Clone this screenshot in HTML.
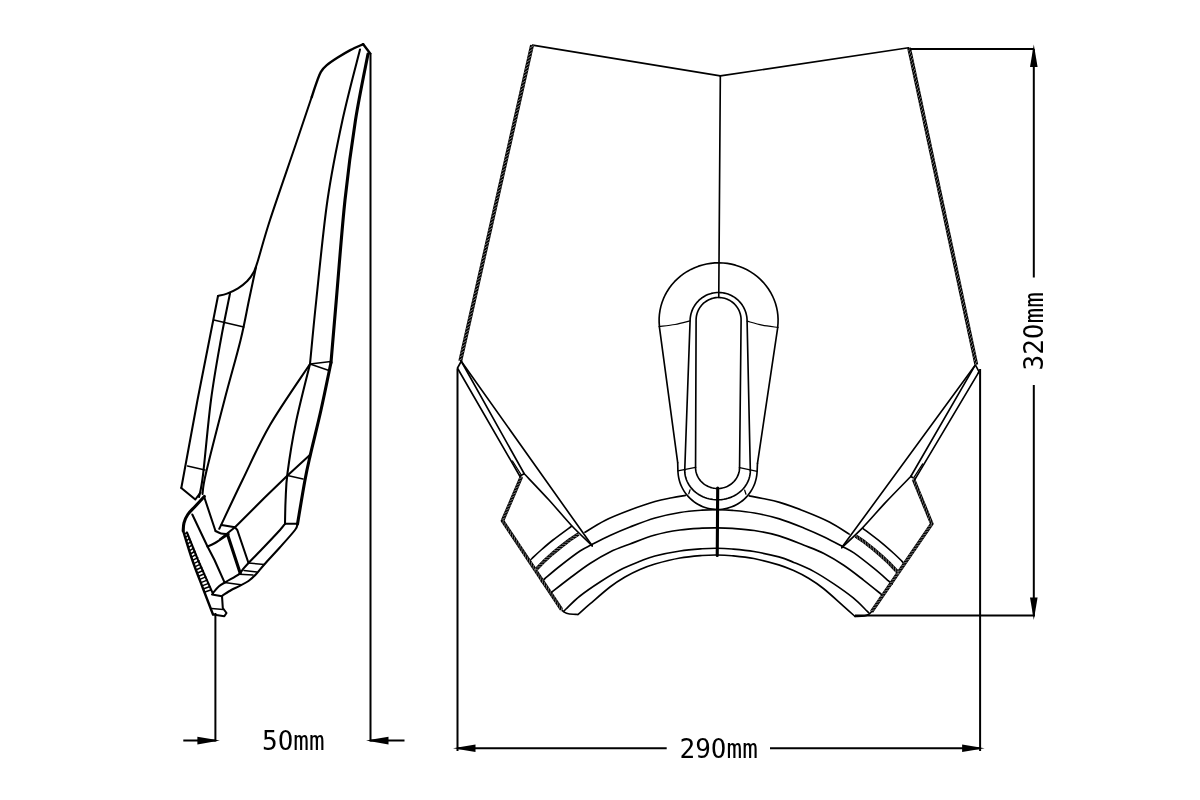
<!DOCTYPE html>
<html lang="en"><head><meta charset="utf-8"><title>Windscreen dimensions</title>
<style>
html,body{margin:0;padding:0;background:#fff;}
body{width:1200px;height:800px;overflow:hidden;}
svg{display:block;filter:grayscale(1) blur(0.3px);}
text{font-family:"DejaVu Sans Mono","Liberation Mono",monospace;fill:#000;}
</style></head><body>
<svg width="1200" height="800" viewBox="0 0 1200 800">
<rect width="1200" height="800" fill="#fff"/>
<g fill="none" stroke="#000" stroke-width="1.5" stroke-linecap="round" stroke-linejoin="round">
<path d="M310.00,364.00 L331.00,361.50"/>
<path d="M310.00,364.00 L329.00,370.50"/>
<path d="M213.80,320.00 L243.80,327.00"/>
<path d="M187.50,466.00 L205.00,470.00"/>
<path d="M287.50,475.40 L303.00,479.00"/>
<path d="M248.50,563.00 L264.30,564.50"/>
<path d="M184.35,534.21 L187.00,532.50"/>
<path d="M185.49,537.42 L188.16,535.23"/>
<path d="M186.64,540.63 L189.52,538.44"/>
<path d="M187.78,543.85 L190.88,541.65"/>
<path d="M188.93,547.06 L192.24,544.85"/>
<path d="M190.08,550.27 L193.60,548.06"/>
<path d="M191.22,553.48 L194.96,551.27"/>
<path d="M192.37,556.69 L196.32,554.47"/>
<path d="M193.52,559.90 L197.68,557.68"/>
<path d="M194.66,563.12 L199.04,560.89"/>
<path d="M195.81,566.33 L200.40,564.09"/>
<path d="M196.95,569.54 L201.76,567.30"/>
<path d="M198.10,572.75 L203.12,570.51"/>
<path d="M199.25,575.96 L204.48,573.71"/>
<path d="M200.39,579.17 L205.84,576.92"/>
<path d="M201.54,582.38 L207.20,580.13"/>
<path d="M202.68,585.60 L208.56,583.33"/>
<path d="M203.83,588.81 L209.92,586.54"/>
<path d="M204.98,592.02 L211.28,589.74"/>
<path d="M244.00,570.50 L256.80,572.00"/>
<path d="M239.50,574.30 L253.00,575.00"/>
<path d="M224.50,582.50 L241.00,584.80"/>
<path d="M211.50,608.60 L223.30,609.50"/>
</g>
<g fill="none" stroke="#000" stroke-width="2.05" stroke-linecap="round" stroke-linejoin="round">
<path d="M311.70,97.00 C308.95,105.17 302.15,125.50 295.20,146.00 C288.25,166.50 276.28,200.67 270.00,220.00 C263.72,239.33 260.25,253.25 257.50,262.00 C254.75,270.75 255.20,269.33 253.50,272.50 C251.80,275.67 249.88,278.37 247.30,281.00 C244.72,283.63 241.38,286.20 238.00,288.30 C234.62,290.40 230.33,292.32 227.00,293.60 C223.67,294.88 219.50,295.60 218.00,296.00"/>
<path d="M360.00,49.50 C357.08,61.25 347.92,94.92 342.50,120.00 C337.08,145.08 331.87,170.00 327.50,200.00 C323.13,230.00 319.22,272.67 316.30,300.00 C313.38,327.33 311.05,353.33 310.00,364.00"/>
<path d="M218.00,296.00 L197.50,400.00 L181.30,488.00"/>
<path d="M230.00,293.50 C228.47,301.25 223.97,322.25 220.80,340.00 C217.63,357.75 213.97,377.50 211.00,400.00 C208.03,422.50 205.00,458.83 203.00,475.00 C201.00,491.17 199.67,493.33 199.00,497.00"/>
<path d="M256.00,267.00 C254.83,272.50 251.57,287.83 249.00,300.00 C246.43,312.17 244.68,323.33 240.60,340.00 C236.52,356.67 230.27,377.83 224.50,400.00 C218.73,422.17 209.67,457.33 206.00,473.00 C202.33,488.67 203.08,490.50 202.50,494.00"/>
<path d="M181.30,488.00 L195.30,499.50 L200.50,492.50"/>
<path d="M310.00,364.00 C303.33,374.17 281.25,405.67 270.00,425.00 C258.75,444.33 250.95,462.70 242.50,480.00 C234.05,497.30 223.17,520.67 219.30,528.80"/>
<path d="M310.00,364.00 C307.63,373.83 299.55,404.83 295.80,423.00 C292.05,441.17 289.20,460.17 287.50,473.00 C285.80,485.83 286.02,491.53 285.60,500.00 C285.18,508.47 285.10,519.83 285.00,523.80"/>
<path d="M310.40,454.60 L287.50,475.40 L265.00,497.30 L235.00,527.30 L220.00,539.30"/>
<path d="M285.00,523.80 L297.50,523.80"/>
<path d="M297.50,524.00 C297.08,525.00 297.92,526.12 295.00,530.00 C292.08,533.88 285.12,541.55 280.00,547.30 C274.88,553.05 268.30,560.00 264.30,564.50 C260.30,569.00 258.63,571.55 256.00,574.30 C253.37,577.05 251.37,579.00 248.50,581.00 C245.63,583.00 241.67,584.80 238.80,586.30 C235.93,587.80 233.97,588.50 231.30,590.00 C228.63,591.50 224.22,594.42 222.80,595.30"/>
<path d="M285.00,523.80 C284.17,524.83 283.50,526.13 280.00,530.00 C276.50,533.87 269.25,541.50 264.00,547.00 C258.75,552.50 252.08,559.20 248.50,563.00 C244.92,566.80 244.12,567.92 242.50,569.80 C240.88,571.68 241.55,572.30 238.80,574.30 C236.05,576.30 229.30,579.80 226.00,581.80 C222.70,583.80 221.17,584.43 219.00,586.30 C216.83,588.17 214.00,591.88 213.00,593.00"/>
<path d="M221.50,525.00 L235.00,527.30"/>
<path d="M235.00,527.30 L237.30,530.00 L248.50,563.00"/>
<path d="M187.00,532.50 L198.00,560.00 L213.00,593.80"/>
<path d="M204.30,497.30 L215.50,531.00"/>
<path d="M215.50,531.00 C216.42,531.42 219.00,533.00 221.00,533.50 C223.00,534.00 226.42,533.92 227.50,534.00"/>
<path d="M192.30,514.50 L207.50,546.50 L214.50,560.00 L224.30,581.80"/>
<path d="M207.50,546.50 C208.75,545.92 211.45,545.08 215.00,543.00 C218.55,540.92 226.50,535.50 228.80,534.00"/>
<path d="M213.00,614.50 L224.30,616.30 L226.50,613.00 L222.80,608.00 L222.00,596.00"/>
<path d="M212.00,594.50 L222.00,596.30"/>
</g>
<g fill="none" stroke="#000" stroke-width="3.1" stroke-linecap="round" stroke-linejoin="round">
<path d="M368.00,54.00 C365.92,65.00 359.33,95.67 355.50,120.00 C351.67,144.33 348.20,170.00 345.00,200.00 C341.80,230.00 338.63,272.92 336.30,300.00 C333.97,327.08 331.88,352.08 331.00,362.50"/>
<path d="M331.00,362.50 C329.33,370.42 324.43,394.65 321.00,410.00 C317.57,425.35 313.07,442.93 310.40,454.60 C307.73,466.27 307.15,468.43 305.00,480.00 C302.85,491.57 298.75,516.67 297.50,524.00"/>
<path d="M227.50,534.50 L240.30,573.50"/>
<path d="M204.30,496.50 C202.80,498.13 198.05,503.30 195.30,506.30 C192.55,509.30 189.68,511.75 187.80,514.50 C185.92,517.25 184.77,520.05 184.00,522.80 C183.23,525.55 183.33,529.63 183.20,531.00"/>
</g>
<g fill="none" stroke="#000" stroke-width="2.4" stroke-linecap="round" stroke-linejoin="round">
<path d="M363.20,44.20 C361.05,45.18 354.55,47.87 350.30,50.10 C346.05,52.33 341.62,55.08 337.70,57.60 C333.78,60.12 329.60,62.82 326.80,65.20 C324.00,67.58 322.57,69.12 320.90,71.90 C319.23,74.68 318.33,77.72 316.80,81.90 C315.27,86.08 312.55,94.48 311.70,97.00"/>
<path d="M363.20,44.20 L370.20,53.50"/>
<path d="M183.20,531.00 C184.72,535.83 189.00,550.42 192.30,560.00 C195.60,569.58 199.55,579.42 203.00,588.50 C206.45,597.58 211.33,610.17 213.00,614.50"/>
</g>
<g transform="rotate(0.406 718.6 320.0)">
<g fill="none" stroke="#000" stroke-width="1.25" stroke-linecap="round" stroke-linejoin="round">
<path d="M513.50,462.46 L522.10,475.90"/>
<path d="M923.70,462.46 L915.10,475.90"/>
<path d="M659.40,327.00 C662.02,326.63 669.98,325.80 675.10,324.80 C680.22,323.80 687.60,321.63 690.10,321.00"/>
<path d="M678.90,471.20 L696.60,467.50"/>
<path d="M691.30,490.00 L690.00,494.00"/>
<path d="M777.80,327.00 C775.18,326.63 767.22,325.80 762.10,324.80 C756.98,323.80 749.60,321.63 747.10,321.00"/>
<path d="M758.30,471.20 L740.60,467.50"/>
<path d="M745.90,490.00 L747.20,494.00"/>
</g>
<g fill="none" stroke="#000" stroke-width="1.65" stroke-linecap="round" stroke-linejoin="round">
<path d="M530.56,46.43 L718.57,75.89"/>
<path d="M906.64,46.43 L718.63,75.89"/>
<path d="M718.60,75.89 L718.60,297.50"/>
<path d="M461.55,363.07 L457.85,369.85 L458.61,371.34"/>
<path d="M975.65,363.07 L979.35,369.85 L978.59,371.34"/>
<path d="M461.55,363.07 L593.80,546.69"/>
<path d="M975.65,363.07 L843.40,546.69"/>
<path d="M461.55,363.07 L525.34,475.12"/>
<path d="M975.65,363.07 L911.86,475.12"/>
<path d="M525.34,475.12 C529.50,479.47 542.34,492.63 550.28,501.20 C558.22,509.77 565.71,518.96 572.96,526.54 C580.21,534.12 590.33,543.33 593.80,546.69"/>
<path d="M911.86,475.12 C907.70,479.47 894.86,492.63 886.92,501.20 C878.98,509.77 871.49,518.96 864.24,526.54 C856.99,534.12 846.87,543.33 843.40,546.69"/>
<path d="M458.61,371.34 L520.86,477.41"/>
<path d="M978.59,371.34 L916.34,477.41"/>
<path d="M520.86,477.41 L525.34,475.12"/>
<path d="M916.34,477.41 L911.86,475.12"/>
<path d="M563.56,610.61 C564.06,611.07 565.40,612.68 566.58,613.38 C567.75,614.09 568.33,614.51 570.59,614.86 C572.84,615.21 578.51,615.38 580.09,615.49"/>
<path d="M873.64,610.61 C873.14,611.07 871.80,612.68 870.62,613.38 C869.45,614.09 868.87,614.51 866.61,614.86 C864.36,615.21 858.69,615.38 857.11,615.49"/>
<path d="M531.21,562.33 C531.63,561.91 531.96,561.50 533.69,559.82 C535.43,558.14 538.16,555.37 541.64,552.26 C545.12,549.15 549.34,545.33 554.56,541.17 C559.78,537.01 569.90,529.60 572.97,527.29"/>
<path d="M905.99,562.33 C905.57,561.91 905.24,561.50 903.51,559.82 C901.77,558.14 899.04,555.37 895.56,552.26 C892.08,549.15 887.86,545.33 882.64,541.17 C877.42,537.01 867.30,529.60 864.23,527.29"/>
<path d="M586.51,533.19 C589.83,531.19 598.95,524.96 606.42,521.20 C613.90,517.44 623.04,513.83 631.35,510.62 C639.66,507.41 649.30,504.03 656.29,501.95 C663.27,499.86 668.19,499.18 673.26,498.13 C678.34,497.07 684.50,496.05 686.74,495.63"/>
<path d="M850.69,533.19 C847.37,531.19 838.25,524.96 830.78,521.20 C823.30,517.44 814.16,513.83 805.85,510.62 C797.54,507.41 787.90,504.03 780.91,501.95 C773.93,499.86 769.01,499.18 763.94,498.13 C758.86,497.07 752.70,496.05 750.46,495.63"/>
<path d="M543.36,582.95 C543.94,582.41 543.77,582.36 546.84,579.72 C549.90,577.09 555.95,571.74 561.75,567.12 C567.55,562.49 576.33,555.60 581.64,551.98 C586.95,548.36 588.61,548.01 593.59,545.39 C598.58,542.77 605.22,539.23 611.53,536.26 C617.84,533.30 623.99,530.59 631.47,527.62 C638.95,524.65 648.09,520.92 656.40,518.45 C664.72,515.97 673.54,514.12 681.37,512.77 C689.19,511.41 697.14,510.81 703.35,510.31 C709.55,509.82 713.52,509.80 718.60,509.80 C723.68,509.80 727.65,509.82 733.85,510.31 C740.06,510.81 748.01,511.41 755.83,512.77 C763.66,514.12 772.48,515.97 780.80,518.45 C789.11,520.92 798.25,524.65 805.73,527.62 C813.21,530.59 819.36,533.30 825.67,536.26 C831.98,539.23 838.62,542.77 843.61,545.39 C848.59,548.01 850.25,548.36 855.56,551.98 C860.87,555.60 869.65,562.49 875.45,567.12 C881.25,571.74 887.30,577.09 890.36,579.72 C893.43,582.36 893.26,582.41 893.84,582.95"/>
<path d="M552.24,594.69 C552.52,594.43 550.67,595.78 553.93,593.17 C557.20,590.57 565.53,583.84 571.83,579.05 C578.13,574.25 585.09,568.79 591.73,564.41 C598.36,560.02 605.00,556.06 611.65,552.76 C618.29,549.47 624.11,547.51 631.59,544.62 C639.07,541.74 648.21,537.84 656.53,535.45 C664.84,533.05 673.66,531.46 681.49,530.27 C689.31,529.08 697.29,528.71 703.48,528.31 C709.66,527.92 713.56,527.90 718.60,527.90 C723.64,527.90 727.54,527.92 733.72,528.31 C739.91,528.71 747.89,529.08 755.71,530.27 C763.54,531.46 772.36,533.05 780.67,535.45 C788.99,537.84 798.13,541.74 805.61,544.62 C813.09,547.51 818.91,549.47 825.55,552.76 C832.20,556.06 838.84,560.02 845.47,564.41 C852.11,568.79 859.07,574.25 865.37,579.05 C871.67,583.84 880.00,590.57 883.27,593.17 C886.53,595.78 884.68,594.43 884.96,594.69"/>
<path d="M566.56,611.58 C566.81,611.33 565.49,612.51 568.05,610.07 C570.62,607.64 576.32,601.52 581.96,596.98 C587.59,592.44 595.22,587.21 601.86,582.83 C608.50,578.45 615.13,574.19 621.77,570.69 C628.42,567.20 635.90,564.23 641.71,561.85 C647.53,559.48 650.02,558.21 656.67,556.44 C663.33,554.68 673.81,552.52 681.64,551.27 C689.46,550.01 697.46,549.41 703.62,548.91 C709.78,548.42 713.61,548.30 718.60,548.30 C723.59,548.30 727.42,548.42 733.58,548.91 C739.74,549.41 747.74,550.01 755.56,551.27 C763.39,552.52 773.87,554.68 780.53,556.44 C787.18,558.21 789.67,559.48 795.49,561.85 C801.30,564.23 808.78,567.20 815.43,570.69 C822.07,574.19 828.70,578.45 835.34,582.83 C841.98,587.21 849.61,592.44 855.24,596.98 C860.88,601.52 866.58,607.64 869.15,610.07 C871.71,612.51 870.39,611.33 870.64,611.58"/>
<path d="M580.09,615.49 C582.08,613.72 586.71,609.53 592.02,604.90 C597.32,600.28 606.09,592.30 611.89,587.76 C617.70,583.22 621.84,580.61 626.82,577.66 C631.80,574.70 636.79,572.25 641.77,570.05 C646.75,567.85 650.08,566.41 656.73,564.44 C663.38,562.48 673.86,559.74 681.69,558.27 C689.51,556.80 697.52,556.16 703.67,555.61 C709.82,555.07 713.62,555.00 718.60,555.00 C723.58,555.00 727.38,555.07 733.53,555.61 C739.68,556.16 747.69,556.80 755.51,558.27 C763.34,559.74 773.82,562.48 780.47,564.44 C787.12,566.41 790.45,567.85 795.43,570.05 C800.41,572.25 805.40,574.70 810.38,577.66 C815.36,580.61 819.50,583.22 825.31,587.76 C831.11,592.30 839.88,600.28 845.18,604.90 C850.49,609.53 855.12,613.72 857.11,615.49"/>
<path d="M777.72,326.81 L778.04,322.79 L778.08,318.75 L777.82,314.73 L777.27,310.73 L776.43,306.78 L775.31,302.89 L773.90,299.09 L772.23,295.39 L770.29,291.82 L768.10,288.39 L765.66,285.11 L762.99,282.01 L760.10,279.10 L757.01,276.39 L753.73,273.89 L750.28,271.63 L746.67,269.60 L742.92,267.82 L739.05,266.30 L735.08,265.05 L731.03,264.07 L726.92,263.37 L722.77,262.94 L718.60,262.80 L714.43,262.94 L710.28,263.37 L706.17,264.07 L702.12,265.05 L698.15,266.30 L694.28,267.82 L690.53,269.60 L686.92,271.63 L683.47,273.89 L680.19,276.39 L677.10,279.10 L674.21,282.01 L671.54,285.11 L669.10,288.39 L666.91,291.82 L664.97,295.39 L663.30,299.09 L661.89,302.89 L660.77,306.78 L659.93,310.73 L659.38,314.73 L659.12,318.75 L659.16,322.79 L659.48,326.81"/>
<path d="M659.40,327.00 L678.70,463.00"/>
<path d="M777.80,327.00 L758.50,463.00"/>
<path d="M678.70,463.00 C678.77,464.63 678.92,470.31 679.10,472.76 C679.27,475.20 679.43,476.04 679.75,477.65 C680.07,479.26 680.49,480.87 681.01,482.42 C681.53,483.98 682.15,485.52 682.86,487.01 C683.57,488.49 684.37,489.94 685.26,491.32 C686.15,492.70 687.14,494.04 688.19,495.30 C689.25,496.56 690.39,497.77 691.59,498.89 C692.80,500.01 694.08,501.06 695.42,502.02 C696.75,502.99 698.16,503.87 699.60,504.66 C701.05,505.45 702.55,506.15 704.09,506.75 C705.62,507.35 707.20,507.86 708.80,508.27 C710.39,508.68 712.03,508.99 713.66,509.19 C715.29,509.40 716.95,509.50 718.60,509.50 C720.25,509.50 721.91,509.40 723.54,509.19 C725.17,508.99 726.81,508.68 728.40,508.27 C730.00,507.86 731.58,507.35 733.11,506.75 C734.65,506.15 736.15,505.45 737.60,504.66 C739.04,503.87 740.45,502.99 741.78,502.02 C743.12,501.06 744.40,500.01 745.61,498.89 C746.81,497.77 747.95,496.56 749.01,495.30 C750.06,494.04 751.05,492.70 751.94,491.32 C752.83,489.94 753.63,488.49 754.34,487.01 C755.05,485.52 755.67,483.98 756.19,482.42 C756.71,480.87 757.13,479.26 757.45,477.65 C757.77,476.04 757.93,475.20 758.10,472.76 C758.28,470.31 758.43,464.63 758.50,463.00"/>
<path d="M685.80,470.50 L690.10,321.00 L690.10,321.00 L690.16,319.14 L690.34,317.28 L690.65,315.44 L691.07,313.62 L691.61,311.84 L692.27,310.09 L693.04,308.39 L693.92,306.75 L694.90,305.17 L695.99,303.65 L697.17,302.21 L698.45,300.85 L699.81,299.57 L701.25,298.39 L702.77,297.30 L704.35,296.32 L705.99,295.44 L707.69,294.67 L709.44,294.01 L711.22,293.47 L713.04,293.05 L714.88,292.74 L716.74,292.56 L718.60,292.50 L720.46,292.56 L722.32,292.74 L724.16,293.05 L725.98,293.47 L727.76,294.01 L729.51,294.67 L731.21,295.44 L732.85,296.32 L734.43,297.30 L735.95,298.39 L737.39,299.57 L738.75,300.85 L740.03,302.21 L741.21,303.65 L742.30,305.17 L743.28,306.75 L744.16,308.39 L744.93,310.09 L745.59,311.84 L746.13,313.62 L746.55,315.44 L746.86,317.28 L747.04,319.14 L747.10,321.00 L747.10,321.00 L751.40,470.50"/>
<path d="M685.80,470.50 L685.87,472.42 L686.08,474.32 L686.43,476.22 L686.92,478.08 L687.54,479.92 L688.30,481.71 L689.18,483.46 L690.19,485.15 L691.33,486.78 L692.58,488.34 L693.94,489.82 L695.41,491.22 L696.97,492.53 L698.63,493.75 L700.38,494.86 L702.20,495.87 L704.09,496.78 L706.05,497.57 L708.06,498.25 L710.11,498.80 L712.20,499.24 L714.32,499.55 L716.45,499.74 L718.60,499.80 L720.75,499.74 L722.88,499.55 L725.00,499.24 L727.09,498.80 L729.14,498.25 L731.15,497.57 L733.11,496.78 L735.00,495.87 L736.82,494.86 L738.57,493.75 L740.23,492.53 L741.79,491.22 L743.26,489.82 L744.62,488.34 L745.87,486.78 L747.01,485.15 L748.02,483.46 L748.90,481.71 L749.66,479.92 L750.28,478.08 L750.77,476.22 L751.12,474.32 L751.33,472.42 L751.40,470.50"/>
<path d="M696.60,467.50 L696.10,320.00 L696.10,320.00 L696.15,318.53 L696.29,317.06 L696.53,315.61 L696.87,314.18 L697.29,312.77 L697.81,311.39 L698.42,310.05 L699.11,308.75 L699.89,307.50 L700.75,306.30 L701.68,305.16 L702.69,304.09 L703.76,303.08 L704.90,302.15 L706.10,301.29 L707.35,300.51 L708.65,299.82 L709.99,299.21 L711.37,298.69 L712.78,298.27 L714.21,297.93 L715.66,297.69 L717.13,297.55 L718.60,297.50 L720.07,297.55 L721.54,297.69 L722.99,297.93 L724.42,298.27 L725.83,298.69 L727.21,299.21 L728.55,299.82 L729.85,300.51 L731.10,301.29 L732.30,302.15 L733.44,303.08 L734.51,304.09 L735.52,305.16 L736.45,306.30 L737.31,307.50 L738.09,308.75 L738.78,310.05 L739.39,311.39 L739.91,312.77 L740.33,314.18 L740.67,315.61 L740.91,317.06 L741.05,318.53 L741.10,320.00 L741.10,320.00 L740.60,467.50"/>
<path d="M696.60,467.50 L696.65,468.87 L696.79,470.24 L697.02,471.60 L697.35,472.94 L697.77,474.25 L698.27,475.54 L698.87,476.79 L699.55,478.00 L700.31,479.17 L701.15,480.28 L702.06,481.35 L703.04,482.35 L704.09,483.29 L705.21,484.16 L706.38,484.96 L707.60,485.69 L708.87,486.33 L710.18,486.90 L711.53,487.39 L712.91,487.78 L714.31,488.10 L715.73,488.32 L717.16,488.46 L718.60,488.50 L720.04,488.46 L721.47,488.32 L722.89,488.10 L724.29,487.78 L725.67,487.39 L727.02,486.90 L728.33,486.33 L729.60,485.69 L730.82,484.96 L731.99,484.16 L733.11,483.29 L734.16,482.35 L735.14,481.35 L736.05,480.28 L736.89,479.17 L737.65,478.00 L738.33,476.79 L738.93,475.54 L739.43,474.25 L739.85,472.94 L740.18,471.60 L740.41,470.24 L740.55,468.87 L740.60,467.50"/>
</g>
<g fill="none" stroke="#000" stroke-width="3.1" stroke-linecap="round" stroke-linejoin="round">
<path d="M718.90,488.00 L718.90,555.50"/>
</g>
<g fill="none" stroke="#000" stroke-width="3.9" stroke-linecap="butt" stroke-linejoin="round">
<path d="M530.06,46.53 L460.60,362.83"/>
<path d="M976.60,362.83 L907.14,46.53"/>
</g>
<path d="M531.56,46.95L527.78,49.63 M530.79,50.46L527.01,53.14 M530.02,53.98L526.24,56.66 M529.25,57.49L525.46,60.18 M528.47,61.01L524.69,63.69 M527.70,64.53L523.92,67.21 M526.93,68.04L523.15,70.73 M526.16,71.56L522.37,74.24 M525.39,75.08L521.60,77.76 M524.61,78.59L520.83,81.27 M523.84,82.11L520.06,84.79 M523.07,85.62L519.29,88.31 M522.30,89.14L518.51,91.82 M521.52,92.66L517.74,95.34 M520.75,96.17L516.97,98.86 M519.98,99.69L516.20,102.37 M519.21,103.21L515.42,105.89 M518.44,106.72L514.65,109.40 M517.66,110.24L513.88,112.92 M516.89,113.75L513.11,116.44 M516.12,117.27L512.34,119.95 M515.35,120.79L511.56,123.47 M514.58,124.30L510.79,126.99 M513.80,127.82L510.02,130.50 M513.03,131.33L509.25,134.02 M512.26,134.85L508.48,137.53 M511.49,138.37L507.70,141.05 M510.71,141.88L506.93,144.57 M509.94,145.40L506.16,148.08 M509.17,148.92L505.39,151.60 M508.40,152.43L504.61,155.12 M507.63,155.95L503.84,158.63 M506.85,159.46L503.07,162.15 M506.08,162.98L502.30,165.66 M505.31,166.50L501.53,169.18 M504.54,170.01L500.75,172.70 M503.76,173.53L499.98,176.21 M502.99,177.05L499.21,179.73 M502.22,180.56L498.44,183.24 M501.45,184.08L497.66,186.76 M500.68,187.59L496.89,190.28 M499.90,191.11L496.12,193.79 M499.13,194.63L495.35,197.31 M498.36,198.14L494.58,200.83 M497.59,201.66L493.80,204.34 M496.82,205.18L493.03,207.86 M496.04,208.69L492.26,211.37 M495.27,212.21L491.49,214.89 M494.50,215.72L490.72,218.41 M493.73,219.24L489.94,221.92 M492.95,222.76L489.17,225.44 M492.18,226.27L488.40,228.96 M491.41,229.79L487.63,232.47 M490.64,233.31L486.85,235.99 M489.87,236.82L486.08,239.50 M489.09,240.34L485.31,243.02 M488.32,243.85L484.54,246.54 M487.55,247.37L483.77,250.05 M486.78,250.89L482.99,253.57 M486.01,254.40L482.22,257.09 M485.23,257.92L481.45,260.60 M484.46,261.43L480.68,264.12 M483.69,264.95L479.91,267.63 M482.92,268.47L479.13,271.15 M482.14,271.98L478.36,274.67 M481.37,275.50L477.59,278.18 M480.60,279.02L476.82,281.70 M479.83,282.53L476.04,285.21 M479.06,286.05L475.27,288.73 M478.28,289.56L474.50,292.25 M477.51,293.08L473.73,295.76 M476.74,296.60L472.96,299.28 M475.97,300.11L472.18,302.80 M475.19,303.63L471.41,306.31 M474.42,307.15L470.64,309.83 M473.65,310.66L469.87,313.34 M472.88,314.18L469.09,316.86 M472.11,317.69L468.32,320.38 M471.33,321.21L467.55,323.89 M470.56,324.73L466.78,327.41 M469.79,328.24L466.01,330.93 M469.02,331.76L465.23,334.44 M468.25,335.28L464.46,337.96 M467.47,338.79L463.69,341.47 M466.70,342.31L462.92,344.99 M465.93,345.82L462.15,348.51 M465.16,349.34L461.37,352.02 M464.38,352.86L460.60,355.54 M463.61,356.37L459.83,359.06 M462.84,359.89L459.06,362.57 M975.06,363.08L977.37,359.06 M974.29,359.57L976.60,355.54 M973.52,356.05L975.83,352.03 M972.74,352.53L975.06,348.51 M971.97,349.02L974.28,345.00 M971.20,345.50L973.51,341.48 M970.43,341.98L972.74,337.96 M969.66,338.47L971.97,334.45 M968.88,334.95L971.20,330.93 M968.11,331.44L970.42,327.41 M967.34,327.92L969.65,323.90 M966.57,324.40L968.88,320.38 M965.80,320.89L968.11,316.87 M965.02,317.37L967.33,313.35 M964.25,313.85L966.56,309.83 M963.48,310.34L965.79,306.32 M962.71,306.82L965.02,302.80 M961.93,303.31L964.25,299.28 M961.16,299.79L963.47,295.77 M960.39,296.27L962.70,292.25 M959.62,292.76L961.93,288.74 M958.85,289.24L961.16,285.22 M958.07,285.73L960.38,281.70 M957.30,282.21L959.61,278.19 M956.53,278.69L958.84,274.67 M955.76,275.18L958.07,271.16 M954.98,271.66L957.30,267.64 M954.21,268.14L956.52,264.12 M953.44,264.63L955.75,260.61 M952.67,261.11L954.98,257.09 M951.90,257.60L954.21,253.57 M951.12,254.08L953.44,250.06 M950.35,250.56L952.66,246.54 M949.58,247.05L951.89,243.03 M948.81,243.53L951.12,239.51 M948.04,240.01L950.35,235.99 M947.26,236.50L949.57,232.48 M946.49,232.98L948.80,228.96 M945.72,229.47L948.03,225.44 M944.95,225.95L947.26,221.93 M944.17,222.43L946.49,218.41 M943.40,218.92L945.71,214.90 M942.63,215.40L944.94,211.38 M941.86,211.88L944.17,207.86 M941.09,208.37L943.40,204.35 M940.31,204.85L942.62,200.83 M939.54,201.34L941.85,197.31 M938.77,197.82L941.08,193.80 M938.00,194.30L940.31,190.28 M937.22,190.79L939.54,186.77 M936.45,187.27L938.76,183.25 M935.68,183.75L937.99,179.73 M934.91,180.24L937.22,176.22 M934.14,176.72L936.45,172.70 M933.36,173.21L935.68,169.19 M932.59,169.69L934.90,165.67 M931.82,166.17L934.13,162.15 M931.05,162.66L933.36,158.64 M930.28,159.14L932.59,155.12 M929.50,155.63L931.81,151.60 M928.73,152.11L931.04,148.09 M927.96,148.59L930.27,144.57 M927.19,145.08L929.50,141.06 M926.41,141.56L928.73,137.54 M925.64,138.04L927.95,134.02 M924.87,134.53L927.18,130.51 M924.10,131.01L926.41,126.99 M923.33,127.50L925.64,123.47 M922.55,123.98L924.86,119.96 M921.78,120.46L924.09,116.44 M921.01,116.95L923.32,112.93 M920.24,113.43L922.55,109.41 M919.46,109.91L921.78,105.89 M918.69,106.40L921.00,102.38 M917.92,102.88L920.23,98.86 M917.15,99.37L919.46,95.34 M916.38,95.85L918.69,91.83 M915.60,92.33L917.92,88.31 M914.83,88.82L917.14,84.80 M914.06,85.30L916.37,81.28 M913.29,81.78L915.60,77.76 M912.52,78.27L914.83,74.25 M911.74,74.75L914.05,70.73 M910.97,71.24L913.28,67.21 M910.20,67.72L912.51,63.70 M909.43,64.20L911.74,60.18 M908.65,60.69L910.97,56.67 M907.88,57.17L910.19,53.15 M907.11,53.66L909.42,49.63 M906.34,50.14L908.65,46.12" fill="none" stroke="#9a9a9a" stroke-width="0.8" stroke-linecap="butt"/>
<g fill="none" stroke="#000" stroke-width="3.6" stroke-linecap="butt" stroke-linejoin="round">
<path d="M522.61,477.89 L503.93,522.33 L563.56,610.61"/>
<path d="M873.64,610.61 L933.27,522.33 L914.59,477.89"/>
<path d="M536.78,571.79 L539.76,568.77 L546.71,561.52 L553.66,555.17 L562.11,548.11 L571.06,541.05 L580.02,534.99"/>
<path d="M857.18,534.99 L866.14,541.05 L875.09,548.11 L883.54,555.17 L890.49,561.52 L897.44,568.77 L900.42,571.79"/>
</g>
<path d="M523.90,478.56L520.01,480.36 M522.58,481.69L518.70,483.50 M521.26,484.83L517.38,486.63 M519.94,487.96L516.06,489.76 M518.62,491.09L514.74,492.90 M517.31,494.23L513.42,496.03 M515.99,497.36L512.11,499.17 M514.67,500.50L510.79,502.30 M513.35,503.63L509.47,505.43 M512.03,506.77L508.15,508.57 M510.72,509.90L506.83,511.70 M509.40,513.03L505.52,514.84 M508.08,516.17L504.20,517.97 M506.76,519.30L502.88,521.11 M504.85,521.12L504.24,525.35 M506.75,523.93L506.14,528.17 M508.66,526.75L508.04,530.99 M510.56,529.57L509.94,533.81 M512.46,532.39L511.85,536.62 M514.36,535.20L513.75,539.44 M516.27,538.02L515.65,542.26 M518.17,540.84L517.56,545.08 M520.07,543.66L519.46,547.89 M521.98,546.47L521.36,550.71 M523.88,549.29L523.27,553.53 M525.78,552.11L525.17,556.35 M527.69,554.93L527.07,559.16 M529.59,557.74L528.98,561.98 M531.49,560.56L530.88,564.80 M533.39,563.38L532.78,567.62 M535.30,566.20L534.68,570.43 M537.20,569.01L536.59,573.25 M539.10,571.83L538.49,576.07 M541.01,574.65L540.39,578.89 M542.91,577.47L542.30,581.70 M544.81,580.28L544.20,584.52 M546.72,583.10L546.10,587.34 M548.62,585.92L548.01,590.16 M550.52,588.74L549.91,592.97 M552.43,591.55L551.81,595.79 M554.33,594.37L553.72,598.61 M556.23,597.19L555.62,601.43 M558.13,600.01L557.52,604.24 M560.04,602.83L559.42,607.06 M561.94,605.64L561.33,609.88 M563.84,608.46L563.23,612.70 M872.52,609.70L876.68,608.69 M874.42,606.89L878.58,605.87 M876.32,604.07L880.48,603.06 M878.23,601.25L882.39,600.24 M880.13,598.43L884.29,597.42 M882.03,595.62L886.19,594.60 M883.93,592.80L888.09,591.79 M885.84,589.98L890.00,588.97 M887.74,587.16L891.90,586.15 M889.64,584.35L893.80,583.33 M891.55,581.53L895.71,580.52 M893.45,578.71L897.61,577.70 M895.35,575.89L899.51,574.88 M897.26,573.08L901.42,572.06 M899.16,570.26L903.32,569.25 M901.06,567.44L905.22,566.43 M902.97,564.62L907.12,563.61 M904.87,561.81L909.03,560.79 M906.77,558.99L910.93,557.98 M908.67,556.17L912.83,555.16 M910.58,553.35L914.74,552.34 M912.48,550.54L916.64,549.52 M914.38,547.72L918.54,546.71 M916.29,544.90L920.45,543.89 M918.19,542.08L922.35,541.07 M920.09,539.27L924.25,538.25 M922.00,536.45L926.16,535.44 M923.90,533.63L928.06,532.62 M925.80,530.81L929.96,529.80 M927.70,528.00L931.86,526.98 M929.61,525.18L933.77,524.16 M932.34,523.82L933.76,519.78 M931.02,520.69L932.45,516.65 M929.70,517.55L931.13,513.51 M928.38,514.42L929.81,510.38 M927.07,511.28L928.49,507.25 M925.75,508.15L927.17,504.11 M924.43,505.01L925.86,500.98 M923.11,501.88L924.54,497.84 M921.79,498.75L923.22,494.71 M920.48,495.61L921.90,491.58 M919.16,492.48L920.58,488.44 M917.84,489.34L919.27,485.31 M916.52,486.21L917.95,482.17 M915.20,483.08L916.63,479.04 M913.89,479.94L915.31,475.90 M535.84,570.70L540.11,570.47 M538.22,568.30L542.49,568.01 M540.57,565.85L544.84,565.55 M542.92,563.39L547.19,563.10 M545.32,560.84L549.60,560.83 M547.83,558.55L552.11,558.54 M550.34,556.26L554.62,556.25 M552.90,553.93L557.18,554.11 M555.51,551.75L559.79,551.93 M558.12,549.57L562.40,549.75 M560.75,547.35L565.02,547.65 M563.42,545.25L567.69,545.55 M566.09,543.14L570.36,543.44 M568.76,541.04L573.03,541.33 M571.58,538.96L575.82,539.57 M574.40,537.06L578.63,537.66 M577.21,535.15L581.45,535.76 M858.08,533.86L859.09,538.02 M860.90,535.77L861.91,539.93 M863.71,537.67L864.72,541.83 M866.64,539.61L867.34,543.83 M869.31,541.72L870.01,545.94 M871.97,543.82L872.68,548.05 M874.64,545.93L875.35,550.15 M877.31,548.10L877.90,552.34 M879.92,550.28L880.51,554.52 M882.53,552.46L883.12,556.70 M885.16,554.71L885.56,558.97 M887.67,557.00L888.07,561.26 M890.19,559.29L890.58,563.56 M892.69,561.73L892.80,566.01 M895.04,564.19L895.15,568.47 M897.36,566.64L897.54,570.92 M899.75,569.06L899.92,573.34" fill="none" stroke="#8c8c8c" stroke-width="0.8" stroke-linecap="butt"/>
</g>
<g fill="none" stroke="#000" stroke-width="2" stroke-linecap="butt">
<path d="M370.50,53.00 L370.50,741.50"/><path d="M215.40,613.00 L215.40,741.50"/><path d="M183.30,740.60 L215.40,740.60"/><path d="M370.50,740.60 L404.50,740.60"/><path d="M457.50,368.50 L457.50,751.00"/><path d="M980.10,369.00 L980.10,751.00"/><path d="M457.50,748.30 L666.70,748.30"/><path d="M770.00,748.30 L980.10,748.30"/><path d="M909.50,48.90 L1034.00,48.90"/><path d="M855.00,615.60 L1035.00,615.60"/><path d="M1033.80,49.00 L1033.80,277.50"/><path d="M1033.80,385.00 L1033.80,615.60"/>
</g>
<polygon points="219.9,740.6 197.4,744.4 197.4,736.8" fill="#000"/><polygon points="366.0,740.6 388.5,736.8 388.5,744.4" fill="#000"/><text x="293.3" y="750.2" font-size="26" text-anchor="middle">50mm</text><ellipse cx="285.1" cy="739.8" rx="2.5" ry="3.3" fill="#fff"/><polygon points="453.0,748.3 475.5,744.5 475.5,752.1" fill="#000"/><polygon points="984.6,748.3 962.1,752.1 962.1,744.5" fill="#000"/><text x="718.7" y="758" font-size="26" text-anchor="middle">290mm</text><ellipse cx="718.3" cy="747.6" rx="2.5" ry="3.3" fill="#fff"/><polygon points="1033.8,44.4 1037.6,66.9 1030.0,66.9" fill="#000"/><polygon points="1033.8,620.1 1030.0,597.6 1037.6,597.6" fill="#000"/><text transform="translate(1043.4,331.3) rotate(-90)" font-size="26" text-anchor="middle">320mm</text><ellipse cx="1033.0" cy="331.7" rx="3.3" ry="2.5" fill="#fff"/>
</svg>
</body></html>
